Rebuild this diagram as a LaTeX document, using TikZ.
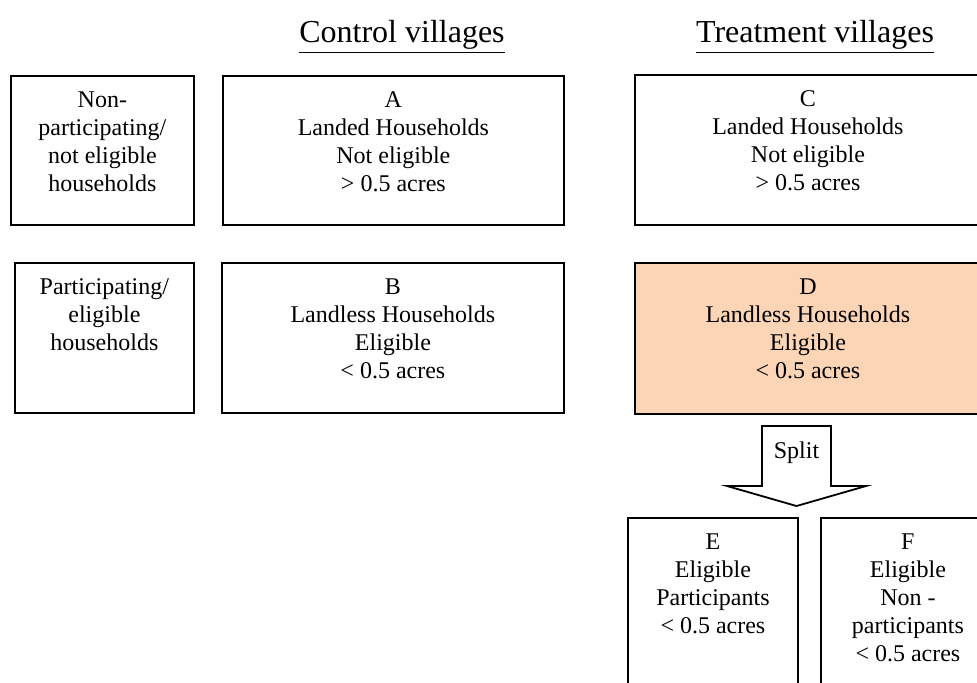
\documentclass[tikz,border=0pt]{standalone}
\usepackage{fontspec}
\setmainfont{Liberation Serif}
\definecolor{Peach}{RGB}{251,213,181}
\usetikzlibrary{positioning,calc}

\begin{document}
\begin{tikzpicture}[x=0.5pt,y=-0.5pt,
    every node/.style={font=\fontsize{12}{14}\selectfont},
    grpbox/.style={draw, line width=0.9pt, inner sep=0pt, anchor=north west},
    boxtext/.style={anchor=north, align=center, inner sep=0pt, yshift=-8pt},
    heading/.style={font=\fontsize{16}{18}\selectfont}]
  \useasboundingbox (0,0) rectangle (977,682);
  \clip (0,0) rectangle (977,682);

  \node[heading] (ctrl) at (402,37) {\underline{Control villages}};
  \node[heading] (treat) at (815,37) {\underline{Treatment villages}};

  % row of not eligible households
  \node[grpbox, minimum width=91.5pt, minimum height=74.5pt] (np) at (10,75) {};
  \node[grpbox, minimum width=170.5pt, minimum height=74.5pt] (A) at (222,75) {};
  \node[grpbox, minimum width=173pt, minimum height=75pt] (C) at (634,74) {};
  \node[boxtext] (npt) at (np.north) {Non-\\participating/\\not eligible\\households};
  \node[boxtext] (At) at (A.north) {A\\Landed Households\\Not eligible\\> 0.5 acres};
  \node[boxtext] (Ct) at (C.north) {C\\Landed Households\\Not eligible\\> 0.5 acres};

  % row of eligible households
  \node[grpbox, minimum width=89.5pt, minimum height=75pt] (pa) at (14,262) {};
  \node[grpbox, minimum width=171pt, minimum height=75pt] (B) at (221,262) {};
  \node[grpbox, minimum width=173pt, minimum height=75.5pt, fill=Peach] (D) at (634,262) {};
  \node[boxtext] (pat) at (pa.north) {Participating/\\eligible\\households};
  \node[boxtext] (Bt) at (B.north) {B\\Landless Households\\Eligible\\< 0.5 acres};
  \node[boxtext] (Dt) at (D.north) {D\\Landless Households\\Eligible\\< 0.5 acres};

  % split arrow
  \coordinate (tip) at (796.5,506);
  \draw[line width=0.9pt, fill=white] (tip) -- ++(69.5,-20) -- ++(-35,0) -- ++(0,-60)
    -- ++(-69,0) -- ++(0,60) -- ++(-35,0) -- cycle;
  \node (split) at (796.5,453) {Split};

  \node[grpbox, minimum width=85pt, minimum height=100pt] (E) at (627,517) {};
  \node[grpbox, minimum width=87pt, minimum height=100pt] (F) at (820,517) {};
  \node[boxtext] (Et) at (E.north) {E\\Eligible\\Participants\\< 0.5 acres};
  \node[boxtext] (Ft) at (F.north) {F\\Eligible\\Non -\\participants\\< 0.5 acres};
\end{tikzpicture}
\end{document}
